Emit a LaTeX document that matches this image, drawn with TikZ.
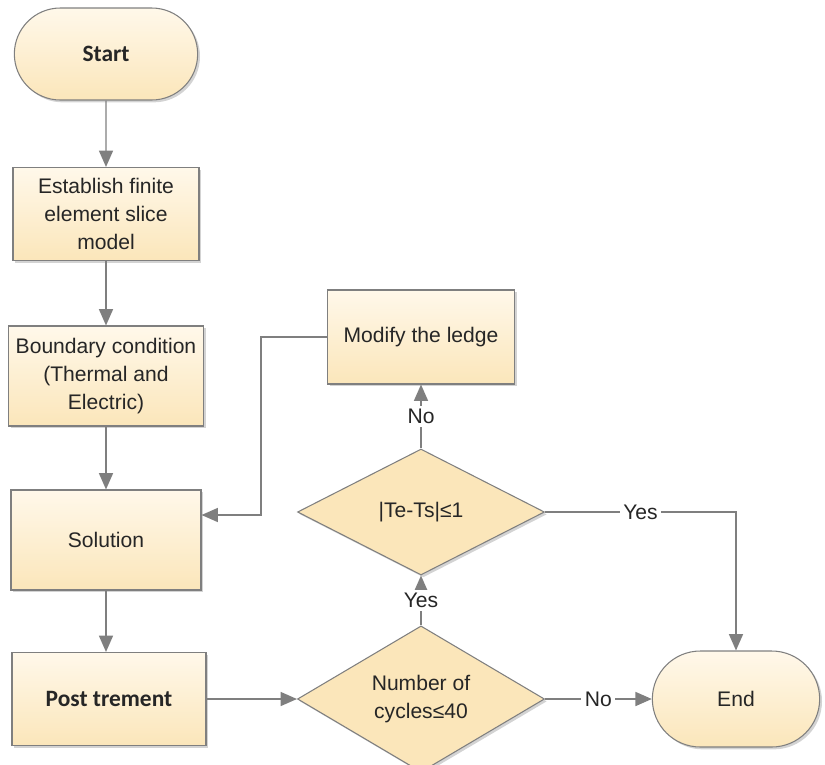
\documentclass[tikz,border=0pt]{standalone}
\usepackage{fontspec}
\setmainfont{Liberation Sans}
\newfontfamily\boldfont{Carlito}
\usepackage{xcolor}
\usetikzlibrary{shapes.geometric,shapes.misc,arrows.meta,shadows}

\definecolor{boxtop}{HTML}{FFF8EA}
\definecolor{boxfill}{HTML}{FBE6BA}
\definecolor{edgegray}{HTML}{7F7F7F}
\definecolor{textgray}{HTML}{262626}
\newcommand{\bigbold}[1]{{\boldfont\bfseries\fontsize{20}{24}\selectfont #1}}

\begin{document}
\begin{tikzpicture}[x=0.3mm, y=-0.3mm,
        every node/.style={font=\fontsize{18}{24}\selectfont, text=textgray},
        proc/.style={draw=edgegray, line width=0.9pt, top color=boxtop, bottom color=boxfill,
            align=center, inner sep=2pt,
            drop shadow={shadow xshift=2pt, shadow yshift=-2pt, opacity=0.35}},
        term/.style={proc, rounded rectangle},
        decide/.style={diamond, draw=edgegray, line width=0.9pt, fill=boxfill, align=center,
            inner sep=0pt, minimum width=7.41cm, minimum height=3.78cm,
            drop shadow={shadow xshift=2pt, shadow yshift=-2pt, opacity=0.35}},
        flow/.style={draw=edgegray, line width=1.2pt, -{Triangle[length=14pt,width=12pt]}},
        tag/.style={fill=white, inner sep=3pt}]
        \useasboundingbox (0,0) rectangle (825,764);

        % Main column
        \node[term, minimum width=5.64cm, minimum height=2.76cm] (start) at (106,54) {\bigbold{Start}};
        \node[proc, minimum width=5.58cm, minimum height=2.79cm] (estab) at (106,214) {Establish finite\\element slice\\model};
        \node[proc, minimum width=5.85cm, minimum height=3.0cm] (bound) at (106,376) {Boundary condition\\(Thermal and\\Electric)};
        \node[proc, minimum width=5.7cm, minimum height=3.0cm] (sol) at (106,540) {Solution};
        \node[proc, minimum width=5.82cm, minimum height=2.79cm] (post) at (109,699) {\bigbold{Post trement}};

        % Checks and loop
        \node[decide] (cyc) at (421,699) {Number of\\cycles≤40};
        \node[decide] (check) at (421,512) {|Te-Ts|≤1};
        \node[proc, minimum width=5.61cm, minimum height=2.82cm] (modify) at (421,337) {Modify the ledge};
        \node[term, minimum width=5.16cm, minimum height=2.88cm] (end) at (736,699) {End};

        % Connectors
        \draw[flow] (start) -- (estab);
        \draw[flow] (estab) -- (bound);
        \draw[flow] (bound) -- (sol);
        \draw[flow] (sol.south) -- (sol.south |- post.north);
        \draw[flow] (post) -- (cyc);
        \draw[flow] (cyc) -- node[tag] {No} (end);
        \draw[flow] (cyc) -- node[tag] {Yes} (check);
        \draw[flow] (check) -- node[tag] {No} (modify);
        \draw[flow] (check) -| node[tag, pos=0.25] {Yes} (end);
        \draw[flow] (modify.west) -- ++(-66,0) |- ([yshift=7.5mm]sol.east);
    \end{tikzpicture}
\end{document}
